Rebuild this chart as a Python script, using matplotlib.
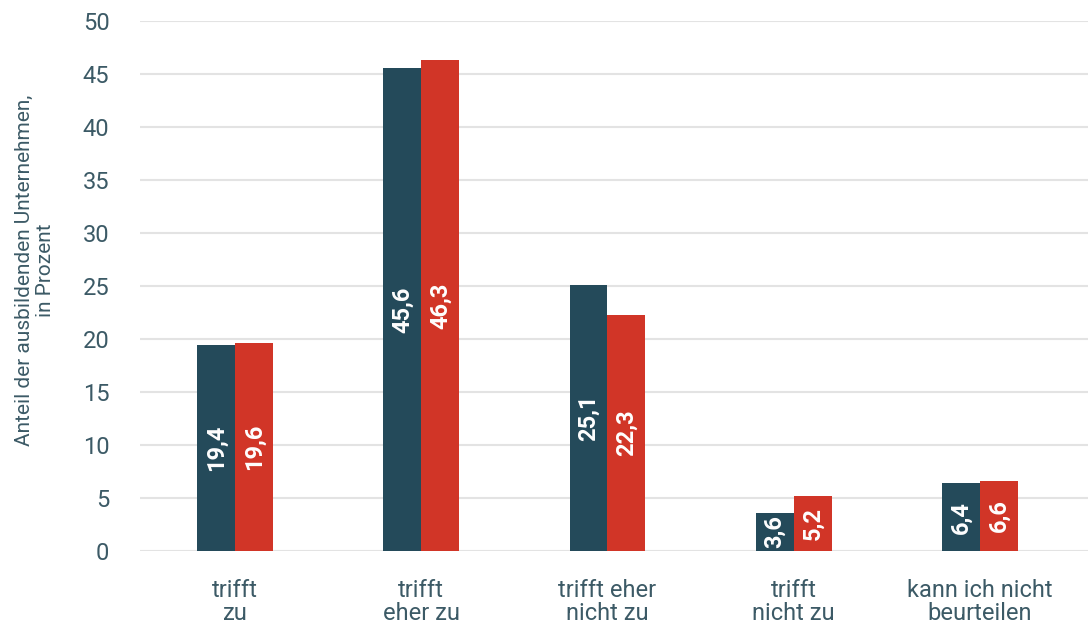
import numpy as np
import matplotlib.pyplot as plt

categories = ['trifft\nzu', 'trifft\neher zu', 'trifft eher\nnicht zu', 'trifft\nnicht zu', 'kann ich nicht\nbeurteilen']
series_a = [19.4, 45.6, 25.1, 3.6, 6.4]
series_b = [19.6, 46.3, 22.3, 5.2, 6.6]
labels_a = ['19,4', '45,6', '25,1', '3,6', '6,4']
labels_b = ['19,6', '46,3', '22,3', '5,2', '6,6']
yticks = [0, 5, 10, 15, 20, 25, 30, 35, 40, 45, 50]

teal = '#244a5a'
red = '#d13527'
text_col = '#3c5a66'

plt.rcParams['font.family'] = ['Roboto', 'DejaVu Sans']

fig = plt.figure(figsize=(10.88, 6.24), dpi=100)
ax = fig.add_axes([0.1287, 0.117, 0.8713, 0.849])

x = np.arange(len(categories))
w = 0.204
bars_a = ax.bar(x - w / 2, series_a, w, color=teal, zorder=3)
bars_b = ax.bar(x + w / 2, series_b, w, color=red, zorder=3)

for bars, labs in ((bars_a, labels_a), (bars_b, labels_b)):
    for b, lab in zip(bars, labs):
        ax.text(b.get_x() + b.get_width() / 2, b.get_height() / 2, lab,
                rotation=90, ha='center', va='center', color='white',
                fontsize=17, fontweight='bold', zorder=4)

ax.set_xlim(-0.51, 4.58)
ax.set_ylim(0, 50)
ax.set_yticks(yticks)
ax.set_yticklabels([str(t) for t in yticks])
ax.set_xticks(x)
ax.set_xticklabels(categories, linespacing=1.0)
ax.yaxis.grid(True, color='#e3e3e3', linewidth=1.5, zorder=0)
ax.set_axisbelow(True)
for s in ax.spines.values():
    s.set_visible(False)
ax.tick_params(axis='both', length=0, colors=text_col, labelsize=17)
ax.tick_params(axis='y', pad=22)
ax.tick_params(axis='x', pad=20)
ax.set_ylabel('Anteil der ausbildenden Unternehmen,\nin Prozent', color=text_col,
              fontsize=15, linespacing=1.1)
ax.yaxis.set_label_coords(-0.09, 0.53)

fig.savefig('out.png', dpi=100)
